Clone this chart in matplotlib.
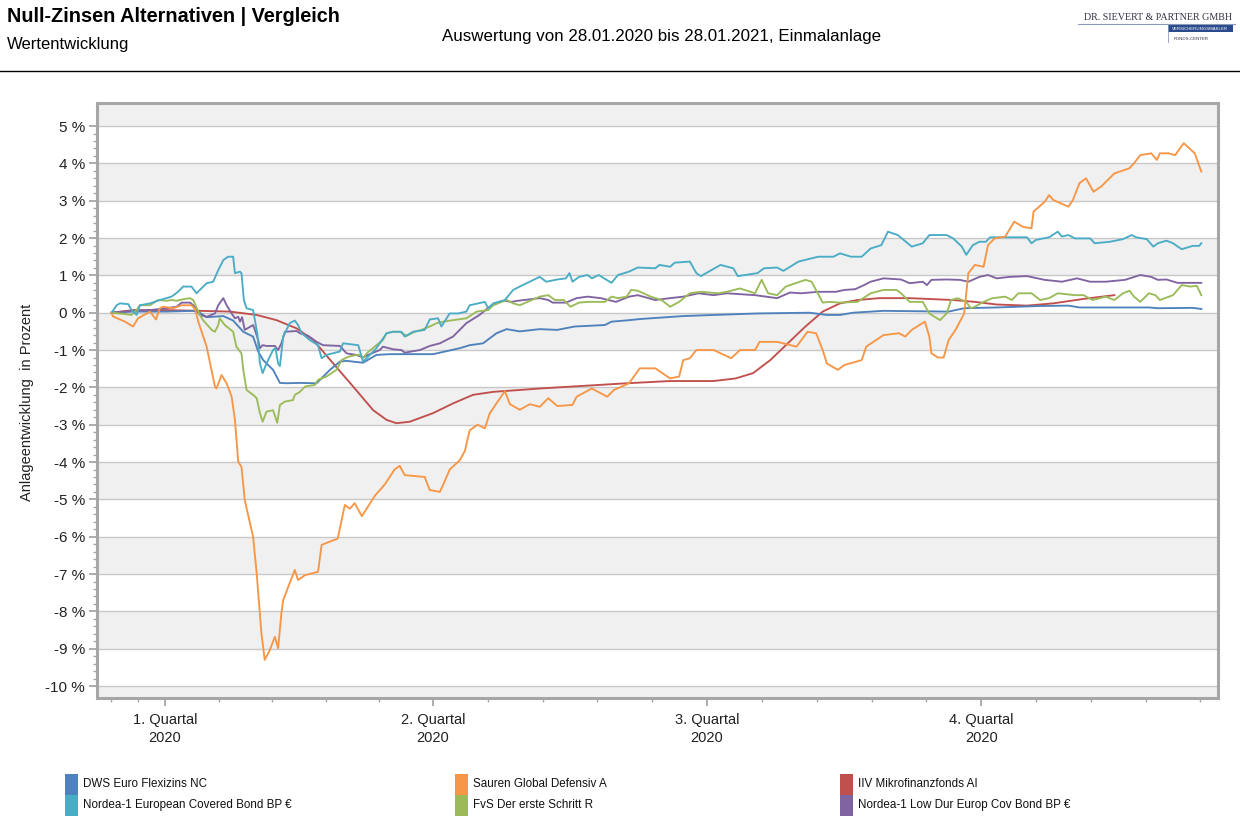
import numpy as np
import matplotlib
matplotlib.use('Agg')
import matplotlib.pyplot as plt
from matplotlib.patches import Rectangle

plt.rcParams['font.family'] = ['Liberation Sans', 'DejaVu Sans']

title = 'Null-Zinsen Alternativen | Vergleich'
subtitle = 'Wertentwicklung'
period = 'Auswertung von 28.01.2020 bis 28.01.2021, Einmalanlage'
y_label = 'Anlageentwicklung  in Prozent'

# x = days since 28.01.2020, labels sit on the middle of each quarter
quarter_days = [18, 108, 200, 292]
quarter_labels = ['1. Quartal\n2020', '2. Quartal\n2020', '3. Quartal\n2020', '4. Quartal\n2020']
y_ticks = list(range(-10, 6))

names = ['DWS Euro Flexizins NC', 'Sauren Global Defensiv A', 'IIV Mikrofinanzfonds AI',
         'Nordea-1 European Covered Bond BP €', 'FvS Der erste Schritt R',
         'Nordea-1 Low Dur Europ Cov Bond BP €']
colors = ['#4f81bd', '#f79646', '#c0504d', '#4bacc6', '#9bbb59', '#8064a2']

# (day, percent)
dws = [(0.1, 0.0), (7.3, 0.03), (18.6, 0.03), (27.5, 0.05), (29.7, 0.0), (32.0, -0.12), (37.6, -0.09),
       (40.9, -0.21), (44.3, -0.51), (47.6, -0.64), (49.3, -1.04), (51.0, -1.27), (54.3, -1.53),
       (56.6, -1.88), (58.8, -1.89), (63.3, -1.88), (68.9, -1.89), (73.4, -1.53), (76.7, -1.31),
       (79.0, -1.29), (84.5, -1.34), (89.0, -1.13), (93.5, -1.11), (108.0, -1.11), (110.3, -1.07),
       (117.0, -0.95), (120.3, -0.87), (124.8, -0.82), (129.3, -0.55), (132.7, -0.44), (137.1, -0.5),
       (143.8, -0.44), (149.7, -0.46), (155.5, -0.37), (165.7, -0.33), (167.9, -0.24), (173.8, -0.2),
       (177.4, -0.17), (192.0, -0.09), (202.2, -0.06), (216.9, -0.02), (234.4, 0.0), (240.2, -0.06),
       (244.6, -0.06), (249.0, 0.0), (259.2, 0.05), (281.1, 0.03), (286.3, 0.12), (297.2, 0.14),
       (311.8, 0.18), (321.3, 0.19), (325.0, 0.14), (348.3, 0.14), (351.3, 0.12), (363.0, 0.13),
       (365.9, 0.10)]

sauren = [(0, 0.0), (0.6, -0.1), (4.6, -0.24), (7.3, -0.37), (9.0, -0.15), (13.0, 0.03), (15.0, -0.18),
          (16.3, 0.12), (17.4, 0.16), (20.8, 0.12), (23.6, 0.2), (26.9, 0.2), (28.1, 0.1), (29.2, -0.24),
          (32.0, -0.91), (34.8, -1.98), (35.3, -2.03), (37.0, -1.67), (38.7, -1.89), (40.4, -2.25),
          (41.5, -2.87), (42.6, -3.99), (43.7, -4.13), (44.8, -5.02), (47.6, -6.0), (48.8, -6.98),
          (50.4, -8.59), (51.5, -9.30), (53.2, -9.04), (54.9, -8.68), (56.0, -8.99), (57.1, -8.05),
          (57.7, -7.70), (59.4, -7.34), (61.6, -6.89), (62.7, -7.16), (65.0, -7.03), (69.4, -6.94),
          (70.6, -6.22), (73.4, -6.13), (76.0, -6.05), (78.4, -5.15), (80.1, -5.25), (81.7, -5.1),
          (84.1, -5.45), (88.5, -4.9), (91.8, -4.6), (95.1, -4.2), (96.8, -4.1), (98.5, -4.35),
          (105.2, -4.4), (106.9, -4.75), (110.3, -4.8), (112.0, -4.5), (113.6, -4.2), (117.0, -3.95),
          (118.7, -3.7), (120.3, -3.15), (123.0, -3.0), (125.4, -3.1), (127.0, -2.7), (130.4, -2.3),
          (132.1, -2.1), (133.8, -2.45), (137.1, -2.6), (140.5, -2.45), (143.8, -2.52), (146.7, -2.29),
          (149.7, -2.5), (154.8, -2.47), (156.2, -2.25), (161.3, -2.03), (166.5, -2.25), (168.7, -2.07),
          (173.8, -1.89), (177.4, -1.49), (182.6, -1.49), (187.6, -1.76), (190.6, -1.71), (192.0, -1.27),
          (194.2, -1.22), (196.4, -1.0), (202.2, -1.0), (208.1, -1.22), (211.0, -1.0), (216.1, -1.0),
          (217.6, -0.78), (223.5, -0.78), (230.0, -0.91), (233.7, -0.51), (236.6, -0.55), (238.8, -1.0),
          (240.2, -1.36), (243.9, -1.53), (246.1, -1.4), (251.9, -1.27), (253.4, -0.91), (259.2, -0.6),
          (264.4, -0.55), (266.5, -0.64), (268.7, -0.46), (273.1, -0.24), (274.6, -0.64), (275.3, -1.09),
          (277.5, -1.2), (279.4, -1.2), (281.1, -0.73), (283.4, -0.46), (286.3, -0.02), (287.7, 1.06),
          (288.5, 1.14), (289.9, 1.28), (292.8, 1.23), (294.3, 1.81), (296.5, 1.99), (300.1, 2.04),
          (303.1, 2.44), (306.0, 2.30), (308.9, 2.26), (309.6, 2.71), (313.3, 2.97), (314.8, 3.15),
          (316.2, 3.02), (321.3, 2.84), (322.8, 3.02), (325.0, 3.47), (327.2, 3.60), (329.7, 3.24),
          (332.3, 3.38), (336.7, 3.73), (341.8, 3.87), (343.3, 4.0), (345.4, 4.22), (349.1, 4.27),
          (351.0, 4.09), (352.0, 4.27), (354.9, 4.27), (357.1, 4.22), (360.0, 4.54), (363.7, 4.27),
          (365.9, 3.78)]

iiv = [(0.1, 0.0), (7.2, 0.07), (18.6, 0.07), (29.7, 0.05), (39.8, 0.03), (48.8, -0.06), (55.5, -0.2),
       (62.2, -0.42), (67.8, -0.73), (74.5, -1.36), (81.2, -1.98), (87.9, -2.61), (92.4, -2.87),
       (95.7, -2.96), (100.2, -2.92), (108.0, -2.69), (114.7, -2.43), (121.4, -2.2), (128.2, -2.12),
       (137.1, -2.07), (143.8, -2.03), (173.0, -1.89), (187.6, -1.83), (202.2, -1.83), (209.6, -1.76),
       (215.4, -1.62), (221.2, -1.27), (227.1, -0.82), (233.0, -0.37), (238.8, 0.03), (244.6, 0.25),
       (250.5, 0.34), (257.8, 0.39), (268.0, 0.39), (282.6, 0.34), (289.9, 0.29), (297.2, 0.22),
       (307.4, 0.19), (316.2, 0.25), (326.4, 0.37), (336.7, 0.47)]

nordea_cov = [(0.1, 0.0), (1.8, 0.2), (2.9, 0.25), (5.7, 0.23), (6.8, 0.07), (8.5, -0.06), (9.6, 0.2),
              (13.0, 0.25), (16.3, 0.34), (20.2, 0.43), (22.4, 0.56), (24.1, 0.7), (26.9, 0.7), (28.6, 0.52),
              (32.0, 0.79), (34.2, 0.83), (35.9, 1.14), (37.6, 1.41), (39.2, 1.5), (40.9, 1.5), (41.5, 1.06),
              (43.2, 1.1), (43.7, 1.06), (44.5, 0.34), (45.4, 0.12), (47.6, 0.07), (49.0, -0.55),
              (49.9, -1.36), (50.8, -1.62), (52.1, -1.36), (54.3, -1.0), (55.1, -0.95), (56.0, -1.36),
              (56.6, -1.43), (57.7, -0.64), (59.9, -0.28), (61.6, -0.21), (62.7, -0.33), (63.9, -0.55),
              (66.6, -0.73), (69.4, -0.87), (70.6, -1.22), (72.2, -1.13), (76.7, -1.04), (77.8, -0.82),
              (82.9, -0.87), (84.5, -1.31), (85.7, -1.22), (89.0, -0.95), (92.4, -0.55), (94.6, -0.51),
              (97.4, -0.51), (98.5, -0.64), (101.3, -0.51), (105.2, -0.46), (106.9, -0.18), (109.7, -0.15),
              (110.8, -0.37), (113.6, -0.02), (116.4, -0.02), (119.2, 0.03), (120.3, 0.2), (125.4, 0.29),
              (126.5, 0.12), (128.2, 0.25), (132.1, 0.34), (134.9, 0.61), (137.1, 0.7), (143.8, 0.96),
              (146.0, 0.83), (149.7, 0.89), (152.6, 0.92), (153.8, 1.06), (154.8, 0.83), (157.0, 0.96),
              (159.9, 1.01), (161.3, 0.92), (163.6, 1.01), (167.9, 0.8), (170.1, 1.01), (173.8, 1.1),
              (176.7, 1.21), (182.6, 1.19), (184.0, 1.28), (187.6, 1.23), (189.1, 1.34), (194.2, 1.37),
              (196.4, 1.06), (197.9, 0.98), (204.5, 1.28), (208.8, 1.19), (210.3, 0.98), (216.9, 1.06),
              (219.1, 1.19), (223.5, 1.21), (225.6, 1.12), (230.7, 1.37), (237.3, 1.5), (242.4, 1.5),
              (244.6, 1.59), (248.3, 1.5), (251.9, 1.5), (254.9, 1.72), (258.5, 1.81), (260.7, 2.17),
              (264.0, 2.08), (268.7, 1.77), (272.4, 1.86), (274.6, 2.08), (280.4, 2.08), (282.6, 1.99),
              (285.5, 1.77), (287.0, 1.55), (289.2, 1.81), (291.4, 1.90), (293.6, 1.90), (295.0, 2.02),
              (307.4, 2.02), (308.9, 1.86), (310.4, 1.95), (314.8, 2.02), (317.7, 2.17), (319.1, 2.04),
              (321.3, 2.08), (323.5, 1.99), (328.6, 1.99), (330.1, 1.86), (335.2, 1.90), (339.6, 1.97),
              (342.5, 2.08), (344.0, 2.02), (347.6, 1.97), (349.8, 1.77), (351.3, 1.86), (354.2, 1.93),
              (356.4, 1.86), (359.3, 1.70), (363.0, 1.79), (365.2, 1.79), (365.9, 1.86)]

fvs = [(0.1, 0.0), (4.0, -0.03), (6.8, -0.06), (8.5, 0.07), (9.6, 0.2), (13.0, 0.2), (15.7, 0.34),
       (18.6, 0.32), (20.2, 0.34), (21.9, 0.32), (24.1, 0.36), (26.4, 0.39), (27.5, 0.34), (29.7, -0.06),
       (30.8, -0.2), (33.7, -0.46), (34.8, -0.51), (35.9, -0.33), (36.4, -0.15), (38.1, -0.33),
       (40.9, -0.51), (42.0, -0.91), (43.7, -1.09), (44.3, -1.53), (45.4, -2.07), (47.6, -2.2),
       (48.8, -2.29), (49.9, -2.69), (50.8, -2.92), (52.1, -2.65), (54.3, -2.61), (55.7, -2.95),
       (56.6, -2.47), (58.3, -2.38), (61.0, -2.34), (61.6, -2.2), (63.3, -2.12), (65.0, -1.98),
       (66.1, -1.96), (68.3, -1.94), (69.4, -1.80), (72.2, -1.71), (75.6, -1.53), (77.3, -1.27),
       (79.5, -1.18), (82.3, -1.13), (83.4, -1.13), (84.5, -1.22), (85.7, -1.09), (89.0, -0.87),
       (91.2, -0.73), (92.4, -0.55), (94.6, -0.51), (96.8, -0.51), (99.1, -0.62), (101.9, -0.51),
       (104.1, -0.46), (106.9, -0.37), (109.2, -0.28), (111.4, -0.24), (114.7, -0.2), (119.2, -0.15),
       (122.6, 0.03), (126.5, 0.07), (128.2, 0.2), (132.7, 0.34), (134.9, 0.25), (137.1, 0.2),
       (143.8, 0.43), (146.7, 0.47), (148.9, 0.34), (151.9, 0.34), (154.1, 0.16), (157.0, 0.27),
       (159.9, 0.29), (165.7, 0.29), (167.9, 0.43), (170.1, 0.39), (173.0, 0.43), (174.5, 0.61),
       (176.7, 0.59), (181.1, 0.43), (184.7, 0.34), (187.6, 0.16), (190.6, 0.29), (194.2, 0.52),
       (197.9, 0.56), (203.7, 0.52), (206.6, 0.56), (211.0, 0.65), (216.1, 0.52), (218.3, 0.88),
       (220.5, 0.52), (223.5, 0.47), (226.4, 0.70), (233.0, 0.88), (235.1, 0.83), (238.8, 0.27),
       (241.0, 0.29), (244.6, 0.27), (250.5, 0.29), (254.9, 0.52), (259.2, 0.61), (263.6, 0.61),
       (265.1, 0.52), (268.0, 0.29), (272.4, 0.29), (274.6, -0.02), (278.2, -0.2), (280.4, -0.02),
       (281.9, 0.34), (284.1, 0.39), (287.0, 0.29), (288.5, 0.12), (289.9, 0.16), (292.8, 0.29),
       (295.8, 0.39), (300.1, 0.43), (302.3, 0.34), (304.5, 0.52), (308.9, 0.52), (311.8, 0.34),
       (314.8, 0.39), (317.7, 0.52), (323.5, 0.47), (326.4, 0.47), (329.4, 0.34), (333.8, 0.43),
       (336.7, 0.34), (339.6, 0.52), (341.8, 0.59), (343.3, 0.43), (345.4, 0.29), (348.3, 0.52),
       (350.5, 0.47), (352.0, 0.34), (356.4, 0.47), (359.3, 0.74), (362.2, 0.70), (364.4, 0.72),
       (365.9, 0.47)]

nordea_low = [(0.1, 0.0), (7.3, 0.05), (13.0, 0.07), (18.6, 0.12), (21.9, 0.16), (23.6, 0.27), (26.4, 0.27),
              (27.5, 0.2), (29.7, -0.06), (32.0, -0.11), (34.8, -0.02), (35.9, 0.2), (37.6, 0.39),
              (38.7, 0.2), (40.4, -0.02), (41.5, -0.15), (42.6, -0.11), (43.2, -0.24), (43.9, -0.12),
              (44.8, -0.46), (47.6, -0.33), (48.2, -0.46), (49.3, -0.73), (49.9, -0.95), (50.8, -0.87),
              (52.1, -0.89), (54.9, -0.89), (56.0, -1.0), (57.1, -0.82), (58.3, -0.51), (62.2, -0.49),
              (63.3, -0.55), (66.1, -0.62), (68.9, -0.78), (71.1, -0.87), (76.7, -0.89), (79.0, -1.09),
              (82.3, -1.13), (84.5, -1.2), (86.2, -1.13), (90.1, -1.0), (91.2, -0.91), (94.6, -0.98),
              (97.4, -1.0), (98.5, -1.07), (103.6, -1.0), (106.9, -0.89), (110.3, -0.82), (114.7, -0.64),
              (119.2, -0.28), (123.6, -0.06), (127.0, 0.16), (130.4, 0.29), (132.1, 0.32), (134.3, 0.29),
              (136.5, 0.32), (143.8, 0.39), (146.7, 0.34), (148.2, 0.27), (152.6, 0.27), (156.2, 0.39),
              (159.9, 0.43), (164.3, 0.39), (169.4, 0.29), (173.8, 0.43), (176.7, 0.47), (182.6, 0.34),
              (187.6, 0.39), (192.0, 0.43), (197.1, 0.52), (202.2, 0.47), (206.6, 0.52), (216.1, 0.47),
              (223.5, 0.39), (227.8, 0.54), (231.5, 0.52), (237.3, 0.56), (243.2, 0.56), (246.1, 0.61),
              (249.7, 0.63), (252.7, 0.74), (254.9, 0.83), (259.2, 0.92), (265.1, 0.89), (268.0, 0.79),
              (272.4, 0.83), (273.8, 0.74), (275.3, 0.88), (280.4, 0.89), (284.8, 0.88), (287.7, 0.83),
              (291.4, 0.96), (294.3, 1.01), (297.2, 0.92), (301.6, 0.96), (307.4, 0.98), (313.3, 0.88),
              (319.1, 0.83), (324.2, 0.92), (328.6, 0.83), (333.8, 0.83), (340.3, 0.88), (345.4, 1.01),
              (349.1, 0.96), (351.3, 0.88), (354.2, 0.89), (357.9, 0.80), (365.9, 0.80)]

series = [dws, sauren, iiv, nordea_cov, fvs, nordea_low]

W, H = 1240, 822
fig = plt.figure(figsize=(W / 100, H / 100), dpi=100)

# page overlay in pixel coordinates (header, legend)
ov = fig.add_axes([0, 0, 1, 1], zorder=0)
ov.set_xlim(0, W)
ov.set_ylim(H, 0)
ov.axis('off')

L, R, T, B = 97, 1218, 103, 698
ax = fig.add_axes([L / W, 1 - B / H, (R - L) / W, (B - T) / H], zorder=1)

grid_c = '#c8c8c8'
frame_c = '#a6a6a6'
band_c = '#f0f0f0'

ax.set_xlim(-4.8, 371.5)
ax.set_ylim(-10.32, 5.617)

for k in range(-11, 6, 2):
    ax.axhspan(k, k + 1, color=band_c, lw=0, zorder=0)
for t in y_ticks:
    ax.axhline(t, color=grid_c, lw=1.0, zorder=1)

order = [2, 0, 5, 4, 3, 1]
for i in order:
    d, v = zip(*series[i])
    ax.plot(d, v, color=colors[i], lw=1.35, zorder=3, solid_joinstyle='round')

ax.set_yticks(y_ticks)
ax.set_yticklabels([f'{t} %' for t in y_ticks], fontsize=11, color='#222222')
ax.set_yticks(np.arange(-10, 5.01, 0.2), minor=True)

minor_x = [0, 9]
for a, b in zip(quarter_days[:-1], quarter_days[1:]):
    minor_x += list(np.linspace(a, b, 6)[1:-1])
step = (quarter_days[-1] - quarter_days[-2]) / 5
minor_x += [quarter_days[-1] + step * j for j in range(1, 5)]
ax.set_xticks(quarter_days)
ax.set_xticklabels(quarter_labels, fontsize=10.5, color='#222222', linespacing=1.4)
ax.set_xticks(minor_x, minor=True)

ax.tick_params(axis='both', which='major', direction='out', length=5.5, width=1.3, color=frame_c)
ax.tick_params(axis='both', which='minor', direction='out', length=2.8, width=1.0, color=frame_c)
ax.tick_params(axis='x', which='major', pad=5)
ax.tick_params(axis='y', which='major', pad=3)
for s in ax.spines.values():
    s.set_color(frame_c)
    s.set_linewidth(2.2)

ov.text(27, 402, y_label, rotation=90, ha='center', va='center', fontsize=10.5, color='#222222')

# header
ov.text(7, 17, title, fontsize=14.3, fontweight='bold', ha='left', va='center', color='black')
ov.text(7, 45, subtitle, fontsize=12, ha='left', va='center', color='black')
ov.text(662, 37, period, fontsize=12.2, ha='center', va='center', color='black')
ov.plot([0, W], [71, 71], color='black', lw=1.0)

# logo
ov.text(1158, 17, 'DR. SIEVERT & PARTNER GMBH', family='Liberation Serif', fontsize=7.2,
        ha='center', va='center', color='#333344')
ov.plot([1078, 1235], [24.5, 24.5], color='#8a9ab8', lw=0.8)
ov.add_patch(Rectangle((1168, 25.5), 65, 7, color='#2b4a8c', lw=0))
ov.text(1200, 29, 'VERSICHERUNGSMAKLER', fontsize=3.2, color='white', ha='center', va='center')
ov.plot([1168, 1168], [25.5, 42], color='#8a9ab8', lw=0.6)
ov.text(1174, 38.5, 'FONDS-CENTER', fontsize=3.2, color='#333344', ha='left', va='center')

# legend
leg_x = [65, 455, 840]
leg_y = [784, 805]
for i, name in enumerate(names):
    col = i % 3
    row = i // 3
    x0 = leg_x[col]
    y0 = leg_y[row]
    ov.add_patch(Rectangle((x0, y0 - 10.5), 13, 21, color=colors[i], lw=0))
    ov.text(x0 + 18, y0, name, fontsize=8.4, ha='left', va='center', color='#111111')

fig.savefig('out.png', dpi=100)
